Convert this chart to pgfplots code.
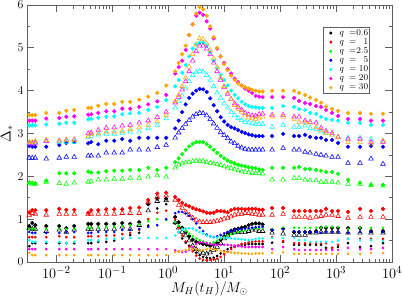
\documentclass[border=0pt]{standalone}
\usepackage{pgfplots}
\usepackage{pgfplotstable}
\pgfplotsset{compat=1.18}
\definecolor{gorange}{RGB}{255,165,0}
\definecolor{ggreen}{RGB}{0,255,0}
\definecolor{gcyan}{RGB}{0,255,255}
\definecolor{gmag}{RGB}{255,0,255}
\definecolor{gblue}{RGB}{0,0,255}
\definecolor{gred}{RGB}{255,0,0}
\definecolor{frame}{RGB}{95,95,95}

% columns: lx = log10(M_H/M_sun), s = stars, t = triangles, d = small dots
\pgfplotstableread{
lx s t d
-2.482 0.84 0.79 0.37
-2.429 0.91 0.77 0.44
-2.375 0.86 0.77 0.44
-2.179 0.84 0.72 0.44
-1.946 0.84 0.75 0.44
-1.821 0.79 0.70 0.44
-1.679 0.84 0.75 0.44
-1.429 0.89 0.77 0.44
-1.375 0.89 0.77 0.44
-1.250 0.89 0.77 0.47
-1.107 0.89 0.77 0.47
-0.964 0.89 0.77 0.50
-0.821 0.91 0.82 0.55
-0.679 0.89 0.77 0.63
-0.518 0.93 0.86 0.68
-0.357 1.35 1.20 0.85
-0.196 1.48 1.42 1.25
-0.036 1.48 1.44 1.35
0.125 1.05 0.92 0.90
0.188 0.93 0.80 0.70
0.250 0.80 0.70 0.55
0.313 0.70 0.62 0.45
0.375 0.60 0.50 0.38
0.438 0.52 0.38 0.30
0.500 0.47 0.30 0.22
0.563 0.45 0.24 0.16
0.625 0.42 0.21 0.12
0.688 0.40 0.19 0.10
0.750 0.38 0.22 0.09
0.813 0.40 0.28 0.10
0.875 0.45 0.35 0.14
0.938 0.52 0.44 0.20
1.000 0.60 0.55 0.25
1.063 0.68 0.62 0.30
1.125 0.73 0.67 0.33
1.188 0.76 0.69 0.36
1.250 0.78 0.70 0.38
1.313 0.80 0.70 0.40
1.375 0.82 0.70 0.40
1.438 0.86 0.72 0.42
1.500 0.89 0.75 0.42
1.563 0.90 0.75 0.42
1.625 0.90 0.72 0.42
1.688 0.88 0.72 0.42
1.857 0.75 0.68 0.45
2.054 0.78 0.66 0.47
2.250 0.70 0.63 0.40
2.339 0.70 0.63 0.40
2.446 0.70 0.63 0.40
2.536 0.70 0.68 0.40
2.643 0.72 0.68 0.40
2.732 0.80 0.70 0.40
2.821 0.80 0.70 0.33
2.929 0.80 0.70 0.33
3.036 0.80 0.70 0.35
3.214 0.79 0.68 0.44
3.429 0.79 0.68 0.35
3.625 0.72 0.68 0.37
3.839 0.72 0.68 0.44
}\TabBlack

\pgfplotstableread{
lx s t d
-2.482 1.16 1.10 0.58
-2.429 1.21 1.14 0.58
-2.375 1.21 1.12 0.58
-2.179 1.21 1.10 0.58
-1.946 1.24 1.12 0.60
-1.821 1.22 1.12 0.58
-1.679 1.22 1.12 0.58
-1.429 1.15 1.12 0.60
-1.375 1.21 1.12 0.60
-1.250 1.21 1.12 0.60
-1.107 1.23 1.12 0.62
-0.964 1.23 1.12 0.62
-0.821 1.23 1.14 0.65
-0.679 1.26 1.14 0.68
-0.518 1.27 1.14 0.75
-0.357 1.45 1.40 1.00
-0.196 1.60 1.52 1.15
-0.036 1.62 1.55 1.20
0.125 1.52 1.45 1.00
0.188 1.45 1.33 0.80
0.250 1.38 1.26 0.62
0.313 1.33 1.17 0.48
0.375 1.30 1.10 0.36
0.438 1.26 1.03 0.25
0.500 1.23 0.98 0.15
0.563 1.21 0.94 0.08
0.625 1.18 0.93 0.05
0.688 1.15 0.93 0.04
0.750 1.14 0.93 0.05
0.813 1.15 0.94 0.06
0.875 1.19 0.96 0.08
0.938 1.19 0.98 0.12
1.000 1.18 1.01 0.18
1.063 1.16 1.03 0.24
1.125 1.21 1.06 0.30
1.188 1.24 1.10 0.35
1.250 1.24 1.12 0.38
1.313 1.24 1.12 0.42
1.375 1.23 1.14 0.44
1.438 1.24 1.14 0.46
1.500 1.24 1.12 0.47
1.563 1.24 1.12 0.48
1.625 1.22 1.10 0.48
1.688 1.22 1.10 0.48
1.857 1.26 1.10 0.58
2.054 1.26 1.12 0.49
2.250 1.19 1.05 0.44
2.339 1.19 1.05 0.44
2.446 1.19 1.05 0.44
2.536 1.19 1.03 0.44
2.643 1.19 1.05 0.44
2.732 1.19 1.07 0.44
2.821 1.24 1.10 0.44
2.929 1.19 1.10 0.33
3.036 1.19 1.07 0.40
3.214 1.17 1.03 0.54
3.429 1.24 1.05 0.54
3.625 1.19 1.05 0.54
3.839 1.24 1.05 0.54
}\TabRed

\pgfplotstableread{
lx s t d
-2.482 1.85 1.85 0.77
-2.429 1.85 1.82 0.77
-2.375 1.83 1.82 0.77
-2.179 1.90 1.87 0.77
-1.946 2.07 1.84 0.77
-1.821 2.07 1.82 0.77
-1.679 2.07 1.85 0.77
-1.429 2.11 1.87 0.80
-1.375 2.09 1.88 0.80
-1.250 2.09 1.92 0.80
-1.107 2.12 1.92 0.82
-0.964 2.13 1.94 0.82
-0.821 2.13 1.94 0.84
-0.679 2.15 1.96 0.86
-0.518 2.15 1.96 0.88
-0.357 2.20 1.99 0.95
-0.196 2.15 2.02 1.00
-0.036 2.20 1.99 0.98
0.125 2.33 2.20 0.93
0.188 2.42 2.27 0.85
0.250 2.52 2.30 0.78
0.313 2.62 2.32 0.72
0.375 2.70 2.33 0.66
0.438 2.76 2.35 0.60
0.500 2.80 2.36 0.55
0.563 2.80 2.36 0.51
0.625 2.80 2.36 0.48
0.688 2.75 2.33 0.45
0.750 2.69 2.31 0.44
0.813 2.62 2.30 0.46
0.875 2.55 2.28 0.50
0.938 2.48 2.26 0.55
1.000 2.42 2.23 0.58
1.063 2.37 2.20 0.62
1.125 2.33 2.19 0.65
1.188 2.30 2.16 0.68
1.250 2.27 2.14 0.70
1.313 2.25 2.11 0.72
1.375 2.23 2.10 0.74
1.438 2.21 2.09 0.77
1.500 2.20 2.08 0.78
1.563 2.19 2.07 0.79
1.625 2.16 2.07 0.79
1.688 2.15 2.06 0.80
1.857 2.20 1.92 0.77
2.054 2.20 1.92 0.80
2.250 2.20 1.96 0.80
2.339 2.22 1.96 0.80
2.446 2.17 1.92 0.80
2.536 2.17 1.90 0.80
2.643 2.15 1.90 0.80
2.732 2.13 1.87 0.80
2.821 2.10 1.87 0.82
2.929 2.10 1.87 0.82
3.036 2.06 1.85 0.82
3.214 1.92 1.82 0.77
3.429 1.85 1.82 0.80
3.625 1.80 1.80 0.80
3.839 1.80 1.78 0.80
}\TabGreen

\pgfplotstableread{
lx s t d
-2.482 2.71 2.43 0.70
-2.429 2.69 2.43 0.68
-2.375 2.69 2.43 0.68
-2.179 2.69 2.41 0.68
-1.946 2.73 2.43 0.68
-1.821 2.78 2.45 0.70
-1.679 2.80 2.45 0.70
-1.429 2.77 2.48 0.68
-1.375 2.80 2.48 0.68
-1.250 2.75 2.48 0.70
-1.107 2.83 2.55 0.70
-0.964 2.83 2.55 0.70
-0.821 2.87 2.55 0.75
-0.679 2.83 2.62 0.75
-0.518 2.90 2.62 0.77
-0.357 2.90 2.62 0.82
-0.196 2.90 2.68 0.86
-0.036 2.90 2.73 1.00
0.125 3.12 2.90 1.14
0.188 3.30 3.02 1.17
0.250 3.50 3.12 1.17
0.313 3.68 3.22 1.13
0.375 3.83 3.31 1.08
0.438 3.93 3.39 1.00
0.500 4.00 3.45 0.90
0.563 4.04 3.48 0.80
0.625 4.03 3.47 0.72
0.688 3.97 3.42 0.64
0.750 3.82 3.33 0.60
0.813 3.66 3.23 0.58
0.875 3.52 3.13 0.60
0.938 3.38 3.03 0.63
1.000 3.28 2.96 0.67
1.063 3.20 2.89 0.70
1.125 3.15 2.81 0.72
1.188 3.12 2.77 0.74
1.250 3.08 2.71 0.76
1.313 3.04 2.67 0.77
1.375 3.01 2.64 0.78
1.438 2.98 2.62 0.79
1.500 2.96 2.62 0.80
1.563 2.94 2.62 0.81
1.625 2.94 2.62 0.82
1.688 2.94 2.62 0.82
1.857 2.94 2.62 0.75
2.054 2.99 2.66 0.77
2.250 2.94 2.62 0.72
2.339 2.94 2.62 0.70
2.446 2.97 2.57 0.70
2.536 2.92 2.55 0.70
2.643 2.90 2.52 0.70
2.732 2.90 2.50 0.68
2.821 2.85 2.48 0.70
2.929 2.85 2.45 0.70
3.036 2.78 2.45 0.70
3.214 2.69 2.31 0.68
3.429 2.69 2.31 0.70
3.625 2.71 2.41 0.70
3.839 2.69 2.29 0.70
}\TabBlue

\pgfplotstableread{
lx s t d
-2.482 3.19 2.78 0.51
-2.429 3.19 2.78 0.47
-2.375 3.19 2.80 0.47
-2.179 3.21 2.83 0.47
-1.946 3.23 2.80 0.47
-1.821 3.25 2.80 0.44
-1.679 3.25 2.80 0.47
-1.429 3.33 2.92 0.51
-1.375 3.34 2.94 0.51
-1.250 3.37 2.97 0.50
-1.107 3.39 2.99 0.54
-0.964 3.40 2.99 0.54
-0.821 3.45 3.01 0.56
-0.679 3.47 3.04 0.56
-0.518 3.48 3.04 0.56
-0.357 3.55 3.12 0.56
-0.196 3.62 3.20 0.56
-0.036 3.78 3.35 0.56
0.125 4.10 3.60 0.62
0.188 4.25 3.75 0.70
0.250 4.42 3.88 0.76
0.313 4.60 4.05 0.78
0.375 4.80 4.22 0.79
0.438 4.98 4.36 0.78
0.500 5.08 4.43 0.74
0.563 5.12 4.46 0.70
0.625 5.12 4.44 0.66
0.688 5.05 4.36 0.62
0.750 4.90 4.25 0.60
0.813 4.70 4.10 0.58
0.875 4.52 3.95 0.57
0.938 4.37 3.83 0.56
1.000 4.25 3.70 0.56
1.063 4.12 3.60 0.56
1.125 4.00 3.50 0.55
1.188 3.90 3.42 0.54
1.250 3.82 3.36 0.54
1.313 3.74 3.31 0.53
1.375 3.68 3.27 0.52
1.438 3.64 3.25 0.51
1.500 3.62 3.23 0.52
1.563 3.61 3.22 0.54
1.625 3.60 3.22 0.55
1.688 3.60 3.22 0.55
1.857 3.60 3.15 0.56
2.054 3.64 3.20 0.56
2.250 3.62 3.15 0.56
2.339 3.57 3.15 0.51
2.446 3.55 3.18 0.51
2.536 3.48 3.13 0.47
2.643 3.46 3.10 0.47
2.732 3.39 3.04 0.47
2.821 3.34 3.01 0.47
2.929 3.32 2.97 0.47
3.036 3.30 2.92 0.50
3.214 3.25 2.90 0.54
3.429 3.25 2.90 0.51
3.625 3.20 2.87 0.51
3.839 3.20 2.83 0.49
}\TabCyan

\pgfplotstableread{
lx s t d
-2.482 3.30 2.76 0.30
-2.429 3.30 2.76 0.30
-2.375 3.30 2.78 0.30
-2.179 3.35 2.82 0.30
-1.946 3.36 2.83 0.30
-1.821 3.39 2.85 0.30
-1.679 3.40 2.86 0.30
-1.429 3.44 3.00 0.30
-1.375 3.45 3.02 0.30
-1.250 3.48 3.08 0.30
-1.107 3.52 3.13 0.30
-0.964 3.52 3.14 0.30
-0.821 3.58 3.18 0.30
-0.679 3.58 3.20 0.30
-0.518 3.62 3.25 0.30
-0.357 3.68 3.30 0.30
-0.196 3.75 3.38 0.30
-0.036 3.90 3.50 0.30
0.125 4.40 3.72 0.27
0.188 4.55 3.85 0.25
0.250 4.70 4.02 0.23
0.313 4.95 4.22 0.24
0.375 5.30 4.45 0.28
0.438 5.55 4.70 0.35
0.500 5.75 4.92 0.42
0.563 5.82 5.05 0.46
0.625 5.77 5.05 0.46
0.688 5.62 4.98 0.44
0.750 5.45 4.85 0.42
0.813 5.22 4.65 0.40
0.875 4.98 4.45 0.40
0.938 4.80 4.25 0.40
1.000 4.65 4.08 0.40
1.063 4.50 3.92 0.40
1.125 4.40 3.80 0.39
1.188 4.28 3.70 0.38
1.250 4.20 3.62 0.37
1.313 4.12 3.55 0.36
1.375 4.05 3.48 0.35
1.438 4.00 3.44 0.35
1.500 3.95 3.42 0.35
1.563 3.88 3.41 0.35
1.625 3.86 3.45 0.35
1.688 3.85 3.46 0.35
1.857 3.85 3.43 0.30
2.054 3.85 3.43 0.35
2.250 3.83 3.39 0.30
2.339 3.76 3.39 0.28
2.446 3.71 3.30 0.28
2.536 3.69 3.27 0.28
2.643 3.64 3.25 0.28
2.732 3.62 3.13 0.28
2.821 3.55 3.06 0.28
2.929 3.48 3.01 0.28
3.036 3.41 2.92 0.28
3.214 3.34 2.87 0.33
3.429 3.34 2.87 0.30
3.625 3.30 2.80 0.30
3.839 3.30 2.80 0.33
}\TabMagenta

\pgfplotstableread{
lx s t d
-2.482 3.43 2.80 0.21
-2.429 3.43 2.80 0.16
-2.375 3.43 2.82 0.16
-2.179 3.48 2.85 0.16
-1.946 3.48 2.83 0.16
-1.821 3.53 2.85 0.16
-1.679 3.55 2.85 0.16
-1.429 3.60 2.93 0.16
-1.375 3.60 2.98 0.16
-1.250 3.65 3.01 0.16
-1.107 3.69 3.04 0.16
-0.964 3.69 3.04 0.16
-0.821 3.74 3.06 0.16
-0.679 3.74 3.10 0.16
-0.518 3.79 3.14 0.16
-0.357 3.86 3.20 0.16
-0.196 3.95 3.28 0.16
-0.036 4.12 3.43 0.16
0.125 4.45 3.75 0.23
0.188 4.65 3.90 0.24
0.250 4.85 4.10 0.26
0.313 5.05 4.30 0.28
0.375 5.30 4.56 0.30
0.438 5.55 4.85 0.30
0.500 5.80 5.07 0.29
0.563 5.95 5.22 0.27
0.625 5.90 5.20 0.28
0.688 5.75 5.10 0.30
0.750 5.50 4.95 0.31
0.813 5.25 4.75 0.30
0.875 5.00 4.55 0.28
0.938 4.80 4.30 0.26
1.000 4.62 4.10 0.24
1.063 4.48 3.95 0.23
1.125 4.35 3.80 0.22
1.188 4.25 3.66 0.21
1.250 4.17 3.57 0.21
1.313 4.12 3.50 0.20
1.375 4.08 3.42 0.20
1.438 4.05 3.37 0.19
1.500 4.02 3.35 0.19
1.563 4.00 3.34 0.20
1.625 3.98 3.37 0.20
1.688 3.98 3.39 0.20
1.857 4.00 3.39 0.21
2.054 4.00 3.39 0.23
2.250 4.00 3.34 0.19
2.339 3.95 3.27 0.19
2.446 3.90 3.25 0.19
2.536 3.84 3.25 0.19
2.643 3.78 3.15 0.19
2.732 3.72 3.08 0.19
2.821 3.63 3.01 0.19
2.929 3.57 2.97 0.19
3.036 3.53 2.92 0.19
3.214 3.48 2.80 0.19
3.429 3.48 2.80 0.19
3.625 3.46 2.76 0.21
3.839 3.46 2.83 0.21
}\TabOrange

\newcommand{\trio}[2]{%
  \addplot[only marks, mark=*, mark size=1.9pt, color=#2, forget plot]
    table[x expr={10^(\thisrow{lx})}, y=s] {#1};
  \addplot[only marks, mark=triangle, mark size=2.7pt, color=#2, forget plot, mark options={line width=0.55pt}]
    table[x expr={10^(\thisrow{lx})}, y=t] {#1};
  \addplot[only marks, mark=*, mark size=1.15pt, color=#2, forget plot]
    table[x expr={10^(\thisrow{lx})}, y=d] {#1};
}
\newcommand{\qent}[1]{\makebox[9.5bp][l]{$q$}$=$\makebox[12bp][r]{$#1$}}
\pgfplotsset{
  legdot/.style={only marks, mark=*, mark size=1.1pt,
    legend image code/.code={%
      \path (-6bp,0bp) (8bp,0bp);
      \draw[##1] plot coordinates {(0bp,0bp)};}},
}

\begin{document}
\begin{tikzpicture}
\begin{axis}[
  scale only axis, width=365bp, height=257bp,
  xmode=log, xmin=0.003, xmax=1e4, ymin=0, ymax=6,
  xtick={1e-2,1e-1,1,1e1,1e2,1e3,1e4},
  ytick={0,1,2,3,4,5,6}, minor y tick num=1,
  tick align=inside,
  major tick length=7bp, minor tick length=3.5bp,
  axis line style={frame, line width=0.9pt},
  every tick/.style={frame, line width=0.7pt},
  xticklabel style={font=\fontsize{15}{17}\selectfont, yshift=-1bp},
  yticklabel style={font=\fontsize{12.5}{14}\selectfont},
  xlabel={$M_H(t_H)/M_\odot$},
  ylabel={$\Delta_*$},
  xlabel style={font=\fontsize{14}{16}\selectfont, yshift=4bp},
  ylabel style={font=\fontsize{14}{16}\selectfont, yshift=-2bp},
  legend style={at={(0.811,0.914)}, anchor=north west, draw=frame, line width=0.8pt,
    font=\fontsize{9.5}{9.5}\selectfont, inner sep=1pt, row sep=0pt,
    nodes={inner sep=0.3pt, text height=6.4bp, text depth=2.1bp}},
  legend cell align=left,
]
\trio{\TabBlack}{black}
\trio{\TabRed}{gred}
\trio{\TabGreen}{ggreen}
\trio{\TabBlue}{gblue}
\trio{\TabCyan}{gcyan}
\trio{\TabMagenta}{gmag}
\trio{\TabOrange}{gorange}
\addlegendimage{legdot, black}
\addlegendentry{\qent{0.6}}
\addlegendimage{legdot, gred}
\addlegendentry{\qent{1}}
\addlegendimage{legdot, ggreen}
\addlegendentry{\qent{2.5}}
\addlegendimage{legdot, gblue}
\addlegendentry{\qent{5}}
\addlegendimage{legdot, gcyan}
\addlegendentry{\qent{10}}
\addlegendimage{legdot, gmag}
\addlegendentry{\qent{20}}
\addlegendimage{legdot, gorange}
\addlegendentry{\qent{30}}
\end{axis}
\pgfresetboundingbox
\path[use as bounding box] (-27bp,-37bp) rectangle (375bp,262bp);
\end{tikzpicture}
\end{document}
